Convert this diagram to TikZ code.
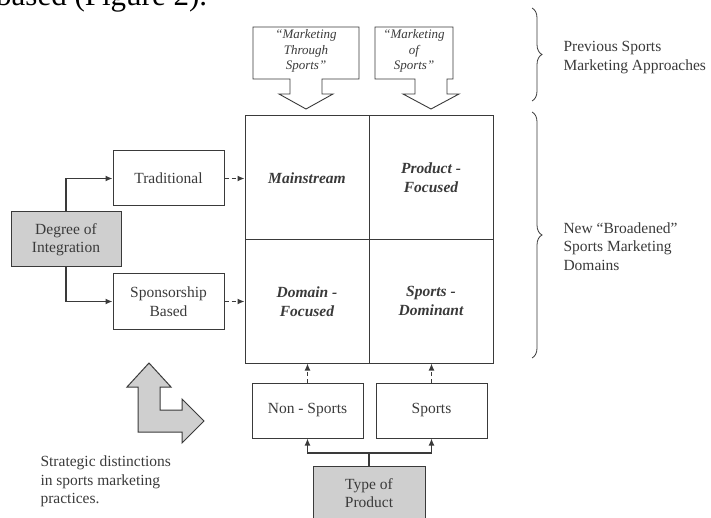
\documentclass[tikz,border=0pt]{standalone}
\usepackage{fontspec}
\setmainfont{Liberation Serif}
\usetikzlibrary{arrows.meta,decorations.pathreplacing}
\definecolor{inkgray}{HTML}{3A3A3A}
\definecolor{shadegray}{HTML}{CFCFCF}
\begin{document}
\begin{tikzpicture}[x=1pt,y=-1pt,
  txt/.style={font=\fontsize{15.5}{18.5}\selectfont,text=inkgray},
  plainbox/.style={txt,draw=inkgray,line width=1pt,minimum width=111,minimum height=55,align=center,inner sep=2pt},
  greybox/.style={plainbox,fill=shadegray},
  cell/.style={draw=inkgray,line width=1pt,minimum width=124,minimum height=123.5,align=center,inner sep=0pt,text=inkgray,font=\fontsize{15.5}{19}\selectfont\bfseries\itshape},
  approach/.style={draw=inkgray,line width=0.9pt,fill=white},
  approachtxt/.style={text=inkgray,align=center,font=\fontsize{13}{15.5}\selectfont\itshape},
  feed/.style={draw=inkgray,line width=1.6pt,-{Latex[length=7pt,width=6pt]}},
  link/.style={draw=inkgray,line width=1.4pt,dash pattern=on 4pt off 3pt,-{Latex[length=7pt,width=6pt]}},
  curly/.style={draw=inkgray,line width=0.8pt,decorate,decoration={brace,amplitude=10}}]
\useasboundingbox (0,0) rectangle (711,518);
\clip (0,0) rectangle (711,518);
% running text of the page, cut off at the top
\node[anchor=base west,inner sep=0pt,font=\fontsize{31}{31}\selectfont] (caption) at (-4,6) {based (Figure 2).};
% the two earlier approaches
\draw[approach] (253,27) -- (359,27) -- (359,79) -- (322,79) -- (322,94) -- (333,94) -- (306,109) -- (279,94) -- (290,94) -- (290,79) -- (253,79) -- cycle;
\draw[approach] (375,27) -- (453,27) -- (453,79) -- (447,79) -- (447,94) -- (459,94) -- (431,109) -- (403,94) -- (415,94) -- (415,79) -- (375,79) -- cycle;
\node[approachtxt] (through) at (306,51) {“Marketing\\Through\\Sports”};
\node[approachtxt] (ofsports) at (414,51) {“Marketing\\of\\Sports”};
% the four domains
\node[cell] (main) at (307,177.75) {Mainstream};
\node[cell] (prod) at (431,177.75) {Product -\\Focused};
\node[cell] (domain) at (307,301.25) {Domain -\\Focused};
\node[cell] (sportsdom) at (431,301.25) {Sports -\\Dominant};
% degree of integration
\node[greybox,minimum width=110] (degree) at (66,239.5) {Degree of\\Integration};
\node[plainbox] (trad) at (168.5,178.5) {Traditional};
\node[plainbox] (spons) at (168.5,301.5) {Sponsorship\\Based};
\draw[feed] (degree.north) |- (trad.west);
\draw[feed] (degree.south) |- (spons.west);
\draw[link] (trad.east) -- (trad.east -| main.west);
\draw[link] (spons.east) -- (spons.east -| domain.west);
% type of product
\node[plainbox] (nonsp) at (307.5,410.5) {Non - Sports};
\node[plainbox] (sports) at (431.5,410.5) {Sports};
\node[greybox,minimum width=112,minimum height=54] (type) at (369,493) {Type of\\Product};
\coordinate (fork) at (369,453);
\draw[draw=inkgray,line width=1.6pt] (type.north) -- (fork);
\draw[feed] (fork) -| (nonsp.south);
\draw[feed] (fork) -| (sports.south);
\draw[link] (nonsp.north) -- (nonsp.north |- domain.south);
\draw[link] (sports.north) -- (sports.north |- sportsdom.south);
% braces on the right
\draw[curly] (532,8) -- (532,101);
\draw[curly] (532,112) -- (532,358);
\node[txt,anchor=west,align=left] (prevlbl) at (560,57.5) {Previous Sports\\Marketing Approaches};
\node[txt,anchor=west,align=left] (newlbl) at (560,246.5) {New “Broadened”\\Sports Marketing\\Domains};
% strategic distinctions
\draw[draw=inkgray,line width=1pt,fill=shadegray] (149,363) -- (171,387) -- (160,387) -- (160,410) -- (182,410) -- (182,399) -- (204,421) -- (182,443) -- (182,432) -- (138,432) -- (138,387) -- (127,387) -- cycle;
\node[txt,anchor=west,align=left] (strat) at (37,481.5) {Strategic distinctions\\in sports marketing\\practices.};
\end{tikzpicture}
\end{document}
